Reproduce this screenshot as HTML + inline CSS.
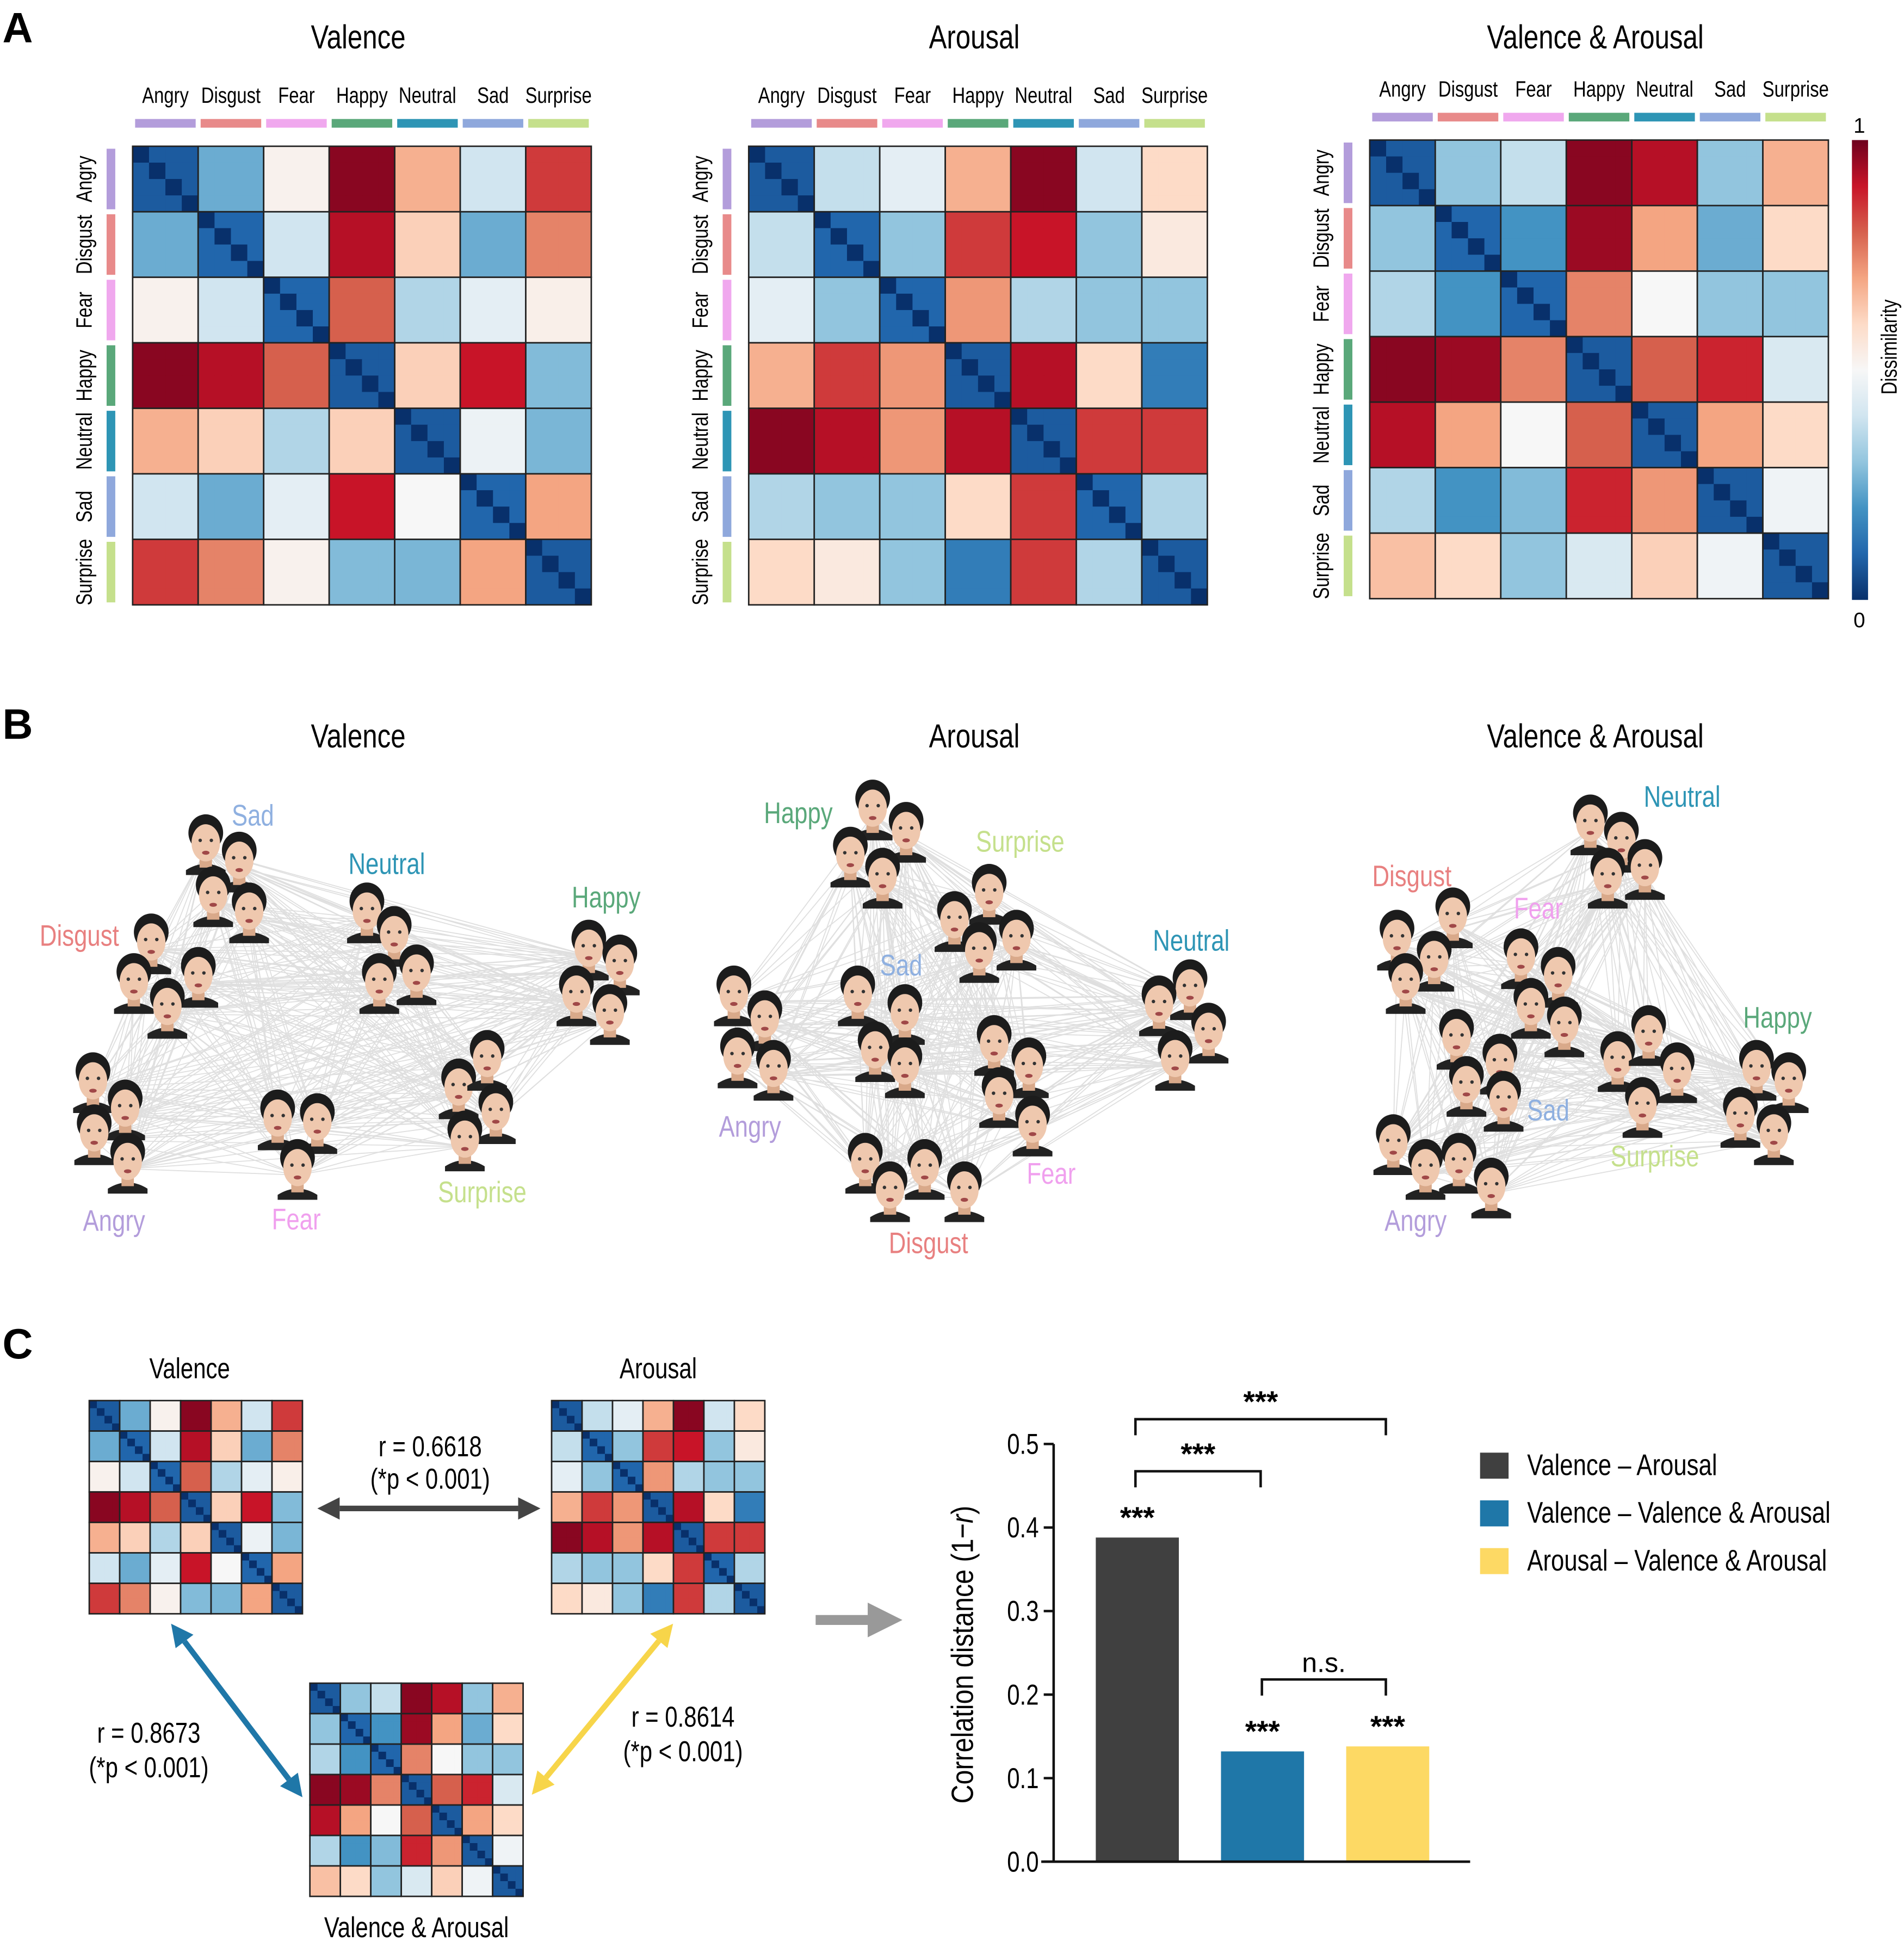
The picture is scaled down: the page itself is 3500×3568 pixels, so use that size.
<!DOCTYPE html>
<html><head><meta charset="utf-8"><style>
html,body{margin:0;padding:0;background:#fff;}
svg{display:block;font-family:"Liberation Sans",sans-serif;}
</style></head><body>
<svg id="fig" width="3500" height="3568" viewBox="0 0 1536 1566" preserveAspectRatio="none" xmlns="http://www.w3.org/2000/svg">
<g id="A">
<text x="2" y="34" font-size="34" font-weight="bold">A</text>
</g>
<g id="B">
<text x="2" y="596" font-size="34" font-weight="bold">B</text>
</g>
<g id="C">
<text x="2" y="1096" font-size="34" font-weight="bold">C</text>
</g>
</svg>
<script>
const NS='http://www.w3.org/2000/svg';
const categories=['Angry','Disgust','Fear','Happy','Neutral','Sad','Surprise'];
const catColors=['#b39ddb','#e88a8a','#f0a8ee','#5aa87a','#2e95b5','#8fa8dc','#c5e08c'];
const valenceMatrix=[
[0.05,0.25,0.52,0.97,0.68,0.40,0.85],
[0.25,0.07,0.40,0.92,0.62,0.25,0.75],
[0.52,0.40,0.07,0.80,0.35,0.45,0.53],
[0.97,0.92,0.80,0.05,0.62,0.90,0.28],
[0.68,0.62,0.35,0.62,0.05,0.47,0.27],
[0.40,0.25,0.45,0.90,0.50,0.07,0.70],
[0.85,0.75,0.52,0.28,0.27,0.70,0.05]];
const arousalMatrix=[
[0.05,0.38,0.45,0.68,0.97,0.40,0.60],
[0.38,0.07,0.30,0.85,0.90,0.30,0.55],
[0.45,0.30,0.07,0.72,0.35,0.30,0.30],
[0.68,0.85,0.72,0.05,0.92,0.60,0.15],
[0.97,0.92,0.72,0.92,0.05,0.85,0.85],
[0.35,0.30,0.30,0.60,0.85,0.07,0.35],
[0.60,0.55,0.30,0.15,0.85,0.35,0.05]];
const vaMatrix=[
[0.05,0.30,0.38,0.97,0.92,0.30,0.68],
[0.30,0.07,0.20,0.95,0.70,0.25,0.60],
[0.35,0.20,0.07,0.75,0.50,0.30,0.30],
[0.97,0.95,0.75,0.05,0.80,0.88,0.42],
[0.92,0.70,0.50,0.80,0.05,0.70,0.60],
[0.35,0.20,0.28,0.88,0.72,0.05,0.48],
[0.65,0.60,0.30,0.42,0.62,0.48,0.05]];
const barLabels=['Valence – Arousal','Valence – Valence & Arousal','Arousal – Valence & Arousal'];
const barValues=[0.388,0.132,0.138];
const barColors=['#404040','#1f77a8','#fdd964'];
const yTicks=[0.0,0.1,0.2,0.3,0.4,0.5];
const yTickLabels=['0.0','0.1','0.2','0.3','0.4','0.5'];

function el(tag,attrs,parent,text){const e=document.createElementNS(NS,tag);for(const k in attrs)e.setAttribute(k,attrs[k]);if(text!==undefined)e.textContent=text;(parent||document.getElementById('fig')).appendChild(e);return e;}
// narrow text: horizontally compressed
function ntext(x,y,size,anchor,parent,str,extra,rot){
  const tr='translate('+x+','+y+')'+(rot?' rotate('+rot+')':'')+' scale(0.8,1)';
  const a={x:0,y:0,'font-size':size,'text-anchor':anchor,transform:tr};
  if(extra)for(const k in extra)a[k]=extra[k];
  return el('text',a,parent,str);
}
const stops=[[0,[8,48,107]],[0.1,[33,102,172]],[0.2,[67,147,195]],[0.3,[146,197,222]],[0.4,[209,229,240]],[0.5,[247,247,247]],[0.6,[253,219,199]],[0.7,[244,165,130]],[0.8,[214,96,77]],[0.9,[200,20,40]],[1,[110,0,30]]];
function cmap(v){v=Math.max(0,Math.min(1,v));for(let i=1;i<stops.length;i++){if(v<=stops[i][0]){const a=stops[i-1],b=stops[i],t=(v-a[0])/(b[0]-a[0]);return 'rgb('+a[1].map((c,j)=>Math.round(c+(b[1][j]-c)*t)).join(',')+')';}}return 'rgb(110,0,30)';}

function heatmap(parent,mat,x0,y0,size,name,labels){
  const g=el('g',{},parent);
  
  
  const n=categories.length,sub=4,bs=size/n,cs=bs/sub;
  for(let i=0;i<n;i++)for(let j=0;j<n;j++){
    for(let a=0;a<sub;a++)for(let b=0;b<sub;b++){
      let v=mat[i][j];if(i===j&&a===b)v=0.0;else if(i===j)v=v+0.03;
      const r=el('rect',{x:x0+j*bs+b*cs,y:y0+i*bs+a*cs,width:cs+0.4,height:cs+0.4,fill:cmap(v)},g);
      
      
    }
    const br=el('rect',{x:x0+j*bs,y:y0+i*bs,width:bs,height:bs,fill:'none',stroke:'#222','stroke-width':1.2},g);
    
    
  }
  if(labels){
    for(let k=0;k<n;k++){
      const cx=x0+k*bs+bs/2, cy=y0+k*bs+bs/2;
      const tb=el('rect',{x:x0+k*bs+2,y:y0-22,width:bs-4,height:7,fill:catColors[k]},g);
      
      
      const tt=ntext(cx,y0-35,18,'middle',g,categories[k]);
      
      
      const lb=el('rect',{x:x0-21,y:y0+k*bs+2,width:7,height:bs-4,fill:catColors[k]},g);
      
      
      const lt=ntext(x0-33,cy,18,'middle',g,categories[k],null,-90);
      
      
    }
  }
  return g;
}
const A=document.getElementById('A');
const titlesA=[['Valence',289],['Arousal',786],['Valence & Arousal',1287]];
titlesA.forEach(t=>{const e=ntext(t[1],39,27,'middle',A,t[0]);});
heatmap(A,valenceMatrix,107,118,370,'valence-rdm',true);
heatmap(A,arousalMatrix,604,118,370,'arousal-rdm',true);
heatmap(A,vaMatrix,1105,113,370,'valence-arousal-rdm',true);
const defs=el('defs',{},A);const lg=el('linearGradient',{id:'cb',x1:0,y1:1,x2:0,y2:0},defs);
for(let k=0;k<=10;k++)el('stop',{offset:k/10,'stop-color':cmap(k/10)},lg);
const cb=el('rect',{x:1494,y:113,width:13,height:371,fill:'url(#cb)'},A);

let t1=el('text',{x:1500,y:107,'font-size':17,'text-anchor':'middle'},A,'1');
let t0=el('text',{x:1500,y:506,'font-size':17,'text-anchor':'middle'},A,'0');
let dt=ntext(1530,280,18,'middle',A,'Dissimilarity',null,-90);

const B=document.getElementById('B');
const labelColors={Angry:'#b39ddb',Disgust:'#e88080',Fear:'#f0a0ee',Happy:'#5aa87a',Neutral:'#2e95b5',Sad:'#8fb0e0',Surprise:'#c5e08c'};
const networks=[
 {title:'Valence',tx:289,faces:{Sad:[[166,678],[193,692],[172,720],[201,733]],Neutral:[[296,733],[318,752],[306,790],[336,783]],Happy:[[475,763],[500,775],[465,800],[492,815]],Disgust:[[122,758],[108,790],[160,785],[135,810]],Angry:[[75,870],[101,892],[76,912],[103,935]],Fear:[[224,900],[256,903],[240,940]],Surprise:[[370,875],[393,852],[400,895],[375,917]]},
  labels:{Sad:[204,666],Neutral:[312,705],Happy:[489,732],Disgust:[64,763],Angry:[92,993],Fear:[239,992],Surprise:[389,970]}},
 {title:'Arousal',tx:786,faces:{Happy:[[704,650],[686,688],[731,668],[712,705]],Surprise:[[798,718],[770,740],[820,755],[790,765]],Neutral:[[960,795],[935,808],[975,830],[948,852]],Sad:[[692,800],[730,815],[706,845],[730,858]],Angry:[[592,800],[617,820],[595,850],[624,860]],Fear:[[802,840],[830,858],[806,882],[833,905]],Disgust:[[698,935],[746,940],[718,958],[778,958]]},
  labels:{Happy:[644,664],Surprise:[823,687],Neutral:[961,767],Sad:[727,787],Angry:[605,917],Fear:[848,955],Disgust:[749,1011]}},
 {title:'Valence & Arousal',tx:1287,faces:{Neutral:[[1283,662],[1308,676],[1297,705],[1327,698]],Disgust:[[1127,755],[1172,737],[1157,772],[1134,790]],Fear:[[1227,770],[1257,785],[1235,810],[1262,825]],Sad:[[1175,835],[1210,855],[1183,873],[1213,885]],Happy:[[1417,860],[1443,870],[1404,898],[1431,912]],Surprise:[[1305,853],[1330,832],[1353,862],[1325,890]],Angry:[[1124,920],[1150,940],[1177,935],[1203,955]]},
  labels:{Neutral:[1357,651],Disgust:[1139,715],Fear:[1241,741],Sad:[1249,904],Happy:[1434,829],Surprise:[1335,941],Angry:[1142,993]}}
];
networks.forEach(net=>{
  const g=el('g',{},B);
  const tt=ntext(net.tx,603,27,'middle',g,net.title);
  const pts=[];for(const c in net.faces)net.faces[c].forEach(p=>pts.push(p));
  const lines=el('g',{stroke:'#d8d8d8','stroke-width':0.8,opacity:0.8},g);
  for(let i=0;i<pts.length;i++)for(let j=i+1;j<pts.length;j++){el('line',{x1:pts[i][0],y1:pts[i][1]+8,x2:pts[j][0],y2:pts[j][1]+8},lines);}
  pts.forEach(p=>{
    const f=el('g',{transform:'translate('+p[0]+','+p[1]+')'},g);
    
    el('path',{d:'M-16 24 Q0 14 16 24 L16 28 L-16 28 Z',fill:'#222'},f);
    el('rect',{x:-5,y:10,width:10,height:12,fill:'#d9a98a'},f);
    el('ellipse',{cx:0,cy:-6,rx:14,ry:15,fill:'#1c1c1c'},f);
    el('ellipse',{cx:0,cy:2,rx:11.5,ry:15,fill:'#efc8ae'},f);
    el('circle',{cx:-4.5,cy:0,r:1.4,fill:'#333'},f);el('circle',{cx:4.5,cy:0,r:1.4,fill:'#333'},f);
    el('ellipse',{cx:0,cy:10,rx:3,ry:1.6,fill:'#a04848'},f);
  });
  for(const c in net.labels){const l=net.labels[c];const t=ntext(l[0],l[1],24,'middle',g,c,{fill:labelColors[c]});}
});

const C=document.getElementById('C');
heatmap(C,valenceMatrix,72,1130,172,'small-valence-rdm',false);
heatmap(C,arousalMatrix,445,1130,172,'small-arousal-rdm',false);
heatmap(C,vaMatrix,250,1358,172,'small-valence-arousal-rdm',false);
[['Valence',153,1112],['Arousal',531,1112],['Valence & Arousal',336,1563]].forEach(t=>{const e=ntext(t[1],t[2],23,'middle',C,t[0]);});
function dblArrow(x1,y1,x2,y2,col,name){
  const g=el('g',{},C);
  const dx=x2-x1,dy=y2-y1,L=Math.hypot(dx,dy),ux=dx/L,uy=dy/L,px=-uy,py=ux,h=18,w=9;
  el('line',{x1:x1+ux*h,y1:y1+uy*h,x2:x2-ux*h,y2:y2-uy*h,stroke:col,'stroke-width':4.5},g);
  el('polygon',{points:[x1,y1,x1+ux*h+px*w,y1+uy*h+py*w,x1+ux*h-px*w,y1+uy*h-py*w].join(' '),fill:col},g);
  el('polygon',{points:[x2,y2,x2-ux*h+px*w,y2-uy*h+py*w,x2-ux*h-px*w,y2-uy*h-py*w].join(' '),fill:col},g);
}
dblArrow(256,1217,436,1217,'#444','arrow-valence-arousal');
dblArrow(138,1310,244,1450,'#1f77a8','arrow-valence-va');
dblArrow(543,1310,429,1448,'#f7d54a','arrow-arousal-va');
[['r = 0.6618',347,1175],['(*p < 0.001)',347,1201],['r = 0.8673',120,1406],['(*p < 0.001)',120,1434],['r = 0.8614',551,1393],['(*p < 0.001)',551,1421]].forEach(t=>{const e=ntext(t[1],t[2],23,'middle',C,t[0]);});
const ga=el('g',{},C);
el('rect',{x:658,y:1303,width:46,height:8,fill:'#999'},ga);el('polygon',{points:'700,1293 728,1307 700,1321',fill:'#999'},ga);

const y0=1502,y1=1165,vmax=0.5;
const yS=v=>y0-(v/vmax)*(y0-y1);
const barX=[884,985,1086],barW=67;
const bc=el('g',{},C);
barValues.forEach((v,i)=>{const r=el('rect',{x:barX[i],y:yS(v),width:barW,height:y0-yS(v),fill:barColors[i]},bc);
 const s=el('text',{x:barX[i]+barW/2,y:yS(v)-8,'font-size':24,'text-anchor':'middle','font-weight':'bold'},bc,'***');});
const ax=el('g',{stroke:'#111','stroke-width':2},bc);
el('line',{x1:850,y1:y1,x2:850,y2:y0},ax);el('line',{x1:840,y1:y0,x2:1186,y2:y0},ax);
yTicks.forEach((v,i)=>{el('line',{x1:842,y1:yS(v),x2:850,y2:yS(v)},ax);const t=ntext(838,yS(v)+8,23,'end',bc,yTickLabels[i]);});
const yt=el('text',{x:0,y:0,'font-size':25,'text-anchor':'middle',transform:'translate(785,1335) rotate(-90) scale(0.85,1)'},bc);
yt.appendChild(document.createTextNode('Correlation distance (1−'));el('tspan',{'font-style':'italic'},yt,'r');yt.appendChild(document.createTextNode(')'));
function bracket(a,b,y,label,name){const g=el('g',{},bc);
 el('path',{d:'M'+a+' '+(y+13)+' L'+a+' '+y+' L'+b+' '+y+' L'+b+' '+(y+13),fill:'none',stroke:'#111','stroke-width':2},g);
 el('text',{x:(a+b)/2,y:y-6,'font-size':label==='n.s.'?22:24,'text-anchor':'middle','font-weight':label==='n.s.'?'normal':'bold'},g,label);}
bracket(916,1118,1145,'***','bracket-1-3');bracket(916,1017,1187,'***','bracket-1-2');bracket(1018,1118,1355,'n.s.','bracket-2-3');
barLabels.forEach((l,i)=>{const g=el('g',{},C);
 el('rect',{x:1194,y:1172+i*38.5,width:23,height:21,fill:barColors[i]},g);ntext(1232,1190+i*38.5,24,'start',g,l);});
</script>
</body></html>
